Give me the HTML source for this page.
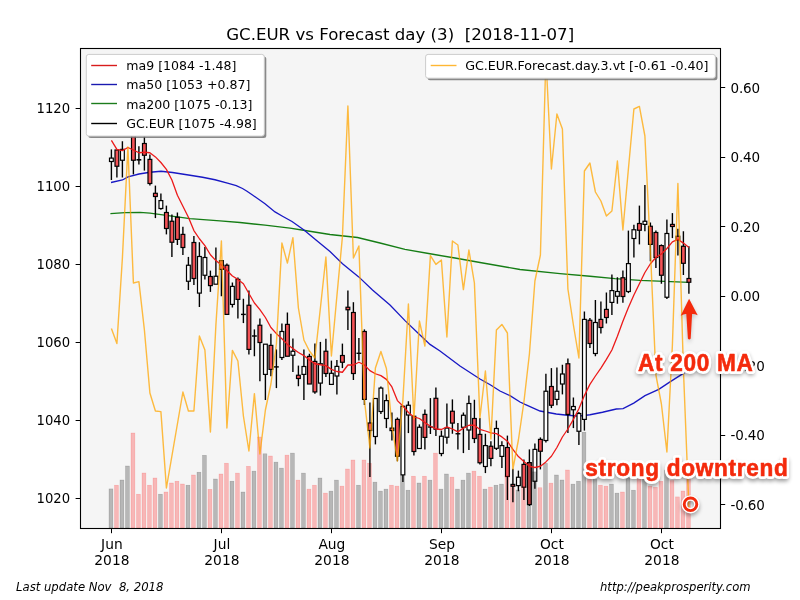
<!DOCTYPE html>
<html><head><meta charset="utf-8"><title>GC.EUR vs Forecast</title>
<style>html,body{margin:0;padding:0;background:#fff;overflow:hidden}svg{display:block}text{font-family:"DejaVu Sans","Liberation Sans",sans-serif}.ann{font-family:"Liberation Sans","DejaVu Sans",sans-serif;font-weight:bold}</style></head><body>
<svg width="800" height="600" viewBox="0 0 800 600">
<defs><clipPath id="ax"><rect x="80" y="48" width="640" height="480"/></clipPath>
<filter id="blur" x="-20%" y="-50%" width="140%" height="200%"><feGaussianBlur stdDeviation="2.0"/></filter><filter id="soft" x="-20%" y="-50%" width="140%" height="200%"><feGaussianBlur stdDeviation="0.6"/></filter>
</defs>
<rect x="0" y="0" width="800" height="600" fill="#fff"/>
<rect x="80" y="48" width="640" height="480" fill="#f5f5f5"/>
<g clip-path="url(#ax)">
<polyline points="110.4,213.6 125,212.7 140,212.4 150,213.1 190,218.6 220,220.9 240,222.5 265,225.2 290,228.1 305,230.5 330,234.5 357.5,237.5 380,243 405,249.3 430,253.75 455,258 480,262.5 520,269.5 560,273.6 590,276.25 615,278.6 640,280.3 689,282.4" fill="none" stroke="#157d15" stroke-width="1.3"/>
<polyline points="111,182.5 122.5,180 128,176.9 139,174 150,172.25 161,171.25 172.5,172.5 190,175.25 202.5,177.25 215,179.75 227.5,183.1 236.25,185.6 242.5,188.5 247,191.2 252.5,195 265,203.75 275,211.9 282.5,216.25 292,221.5 304,230 316,240 330,251.5 342.5,263.75 358.75,276.9 372.5,290 390,305 405,320.6 420,335 430,344.4 440,351 460,366 480,379 490.6,385 500,391 510,395.6 520,402 525,404.4 540,411 556.25,414 567.5,415.25 578.75,416.2 590,414.75 602.5,412.25 616.25,409 623.1,408.7 633.75,403.1 645,395.6 658.75,389.4 670,381.9 683.75,373.1 689,368.8" fill="none" stroke="#1818c4" stroke-width="1.3"/>
<rect x="109.50" y="158.10" width="3.8" height="3.40" fill="#fff" stroke="#000" stroke-width="1.2"/>
<rect x="115.00" y="150.00" width="3.8" height="16.25" fill="#f45256" stroke="#000" stroke-width="1.2"/>
<rect x="120.50" y="149.40" width="3.8" height="10.85" fill="#fff" stroke="#000" stroke-width="1.2"/>
<rect x="131.50" y="128.00" width="3.8" height="32.25" fill="#f45256" stroke="#000" stroke-width="1.2"/>
<rect x="142.50" y="143.50" width="3.8" height="11.75" fill="#f45256" stroke="#000" stroke-width="1.2"/>
<rect x="148.00" y="159.40" width="3.8" height="24.10" fill="#f45256" stroke="#000" stroke-width="1.2"/>
<rect x="153.50" y="193.30" width="3.8" height="3.20" fill="#f45256" stroke="#000" stroke-width="1.2"/>
<rect x="159.00" y="200.60" width="3.8" height="7.90" fill="#fff" stroke="#000" stroke-width="1.2"/>
<rect x="164.50" y="212.50" width="3.8" height="16.00" fill="#f45256" stroke="#000" stroke-width="1.2"/>
<rect x="170.00" y="221.25" width="3.8" height="21.00" fill="#f45256" stroke="#000" stroke-width="1.2"/>
<rect x="175.50" y="217.25" width="3.8" height="22.15" fill="#f45256" stroke="#000" stroke-width="1.2"/>
<rect x="181.00" y="234.40" width="3.8" height="13.10" fill="#f45256" stroke="#000" stroke-width="1.2"/>
<rect x="186.50" y="265.25" width="3.8" height="16.00" fill="#fff" stroke="#000" stroke-width="1.2"/>
<rect x="192.00" y="242.50" width="3.8" height="36.00" fill="#f45256" stroke="#000" stroke-width="1.2"/>
<rect x="197.50" y="256.50" width="3.8" height="36.60" fill="#fff" stroke="#000" stroke-width="1.2"/>
<rect x="203.00" y="257.50" width="3.8" height="17.75" fill="#fff" stroke="#000" stroke-width="1.2"/>
<rect x="208.50" y="276.50" width="3.8" height="9.10" fill="#f45256" stroke="#000" stroke-width="1.2"/>
<rect x="214.00" y="276.25" width="3.8" height="7.95" fill="#fff" stroke="#000" stroke-width="1.2"/>
<rect x="219.50" y="260.60" width="3.8" height="8.80" fill="#f45256" stroke="#000" stroke-width="1.2"/>
<rect x="225.00" y="265.25" width="3.8" height="49.15" fill="#f45256" stroke="#000" stroke-width="1.2"/>
<rect x="230.50" y="286.40" width="3.8" height="18.00" fill="#fff" stroke="#000" stroke-width="1.2"/>
<rect x="236.00" y="279.40" width="3.8" height="20.00" fill="#f45256" stroke="#000" stroke-width="1.2"/>
<rect x="247.00" y="305.25" width="3.8" height="44.15" fill="#f45256" stroke="#000" stroke-width="1.2"/>
<rect x="258.00" y="325.25" width="3.8" height="17.25" fill="#f45256" stroke="#000" stroke-width="1.2"/>
<rect x="263.50" y="344.20" width="3.8" height="30.20" fill="#fff" stroke="#000" stroke-width="1.2"/>
<rect x="269.00" y="345.40" width="3.8" height="24.00" fill="#f45256" stroke="#000" stroke-width="1.2"/>
<rect x="280.00" y="331.50" width="3.8" height="26.00" fill="#fff" stroke="#000" stroke-width="1.2"/>
<rect x="285.50" y="324.40" width="3.8" height="31.85" fill="#f45256" stroke="#000" stroke-width="1.2"/>
<rect x="291.00" y="351.25" width="3.8" height="4.00" fill="#fff" stroke="#000" stroke-width="1.2"/>
<rect x="296.50" y="375.25" width="3.8" height="3.25" fill="#f45256" stroke="#000" stroke-width="1.2"/>
<rect x="302.00" y="366.50" width="3.8" height="7.90" fill="#fff" stroke="#000" stroke-width="1.2"/>
<rect x="307.50" y="356.40" width="3.8" height="27.60" fill="#f45256" stroke="#000" stroke-width="1.2"/>
<rect x="313.00" y="361.40" width="3.8" height="30.50" fill="#f45256" stroke="#000" stroke-width="1.2"/>
<rect x="318.50" y="363.75" width="3.8" height="19.35" fill="#fff" stroke="#000" stroke-width="1.2"/>
<rect x="324.00" y="351.25" width="3.8" height="22.25" fill="#f45256" stroke="#000" stroke-width="1.2"/>
<rect x="329.50" y="373.30" width="3.8" height="11.10" fill="#fff" stroke="#000" stroke-width="1.2"/>
<rect x="335.00" y="366.40" width="3.8" height="9.60" fill="#fff" stroke="#000" stroke-width="1.2"/>
<rect x="340.50" y="355.50" width="3.8" height="6.75" fill="#f45256" stroke="#000" stroke-width="1.2"/>
<rect x="346.00" y="307.25" width="3.8" height="2.50" fill="#f45256" stroke="#000" stroke-width="1.2"/>
<rect x="351.50" y="312.50" width="3.8" height="61.00" fill="#f45256" stroke="#000" stroke-width="1.2"/>
<rect x="362.50" y="331.50" width="3.8" height="67.90" fill="#f45256" stroke="#000" stroke-width="1.2"/>
<rect x="368.00" y="423.00" width="3.8" height="7.50" fill="#f45256" stroke="#000" stroke-width="1.2"/>
<rect x="373.50" y="398.50" width="3.8" height="38.00" fill="#fff" stroke="#000" stroke-width="1.2"/>
<rect x="379.00" y="388.10" width="3.8" height="23.40" fill="#fff" stroke="#000" stroke-width="1.2"/>
<rect x="384.50" y="400.60" width="3.8" height="17.90" fill="#fff" stroke="#000" stroke-width="1.2"/>
<rect x="390.00" y="428.10" width="3.8" height="2.50" fill="#f45256" stroke="#000" stroke-width="1.2"/>
<rect x="395.50" y="419.40" width="3.8" height="36.85" fill="#f45256" stroke="#000" stroke-width="1.2"/>
<rect x="401.00" y="406.25" width="3.8" height="68.65" fill="#fff" stroke="#000" stroke-width="1.2"/>
<rect x="406.50" y="405.25" width="3.8" height="9.75" fill="#fff" stroke="#000" stroke-width="1.2"/>
<rect x="412.00" y="416.25" width="3.8" height="35.25" fill="#f45256" stroke="#000" stroke-width="1.2"/>
<rect x="417.50" y="427.25" width="3.8" height="21.25" fill="#fff" stroke="#000" stroke-width="1.2"/>
<rect x="423.00" y="414.40" width="3.8" height="23.00" fill="#f45256" stroke="#000" stroke-width="1.2"/>
<rect x="434.00" y="398.30" width="3.8" height="30.90" fill="#f45256" stroke="#000" stroke-width="1.2"/>
<rect x="439.50" y="436.25" width="3.8" height="17.25" fill="#fff" stroke="#000" stroke-width="1.2"/>
<rect x="445.00" y="428.10" width="3.8" height="9.15" fill="#fff" stroke="#000" stroke-width="1.2"/>
<rect x="450.50" y="411.25" width="3.8" height="11.85" fill="#f45256" stroke="#000" stroke-width="1.2"/>
<rect x="461.50" y="415.25" width="3.8" height="12.00" fill="#fff" stroke="#000" stroke-width="1.2"/>
<rect x="467.00" y="403.50" width="3.8" height="26.50" fill="#fff" stroke="#000" stroke-width="1.2"/>
<rect x="472.50" y="418.50" width="3.8" height="20.00" fill="#f45256" stroke="#000" stroke-width="1.2"/>
<rect x="478.00" y="434.40" width="3.8" height="28.35" fill="#f45256" stroke="#000" stroke-width="1.2"/>
<rect x="483.50" y="445.60" width="3.8" height="20.90" fill="#fff" stroke="#000" stroke-width="1.2"/>
<rect x="489.00" y="446.25" width="3.8" height="12.15" fill="#f45256" stroke="#000" stroke-width="1.2"/>
<rect x="494.50" y="428.50" width="3.8" height="19.80" fill="#fff" stroke="#000" stroke-width="1.2"/>
<rect x="500.00" y="445.60" width="3.8" height="10.80" fill="#fff" stroke="#000" stroke-width="1.2"/>
<rect x="505.50" y="447.50" width="3.8" height="29.00" fill="#f45256" stroke="#000" stroke-width="1.2"/>
<rect x="511.00" y="484.40" width="3.8" height="1.85" fill="#f45256" stroke="#000" stroke-width="1.2"/>
<rect x="516.50" y="477.25" width="3.8" height="8.35" fill="#fff" stroke="#000" stroke-width="1.2"/>
<rect x="522.00" y="464.40" width="3.8" height="22.85" fill="#f45256" stroke="#000" stroke-width="1.2"/>
<rect x="527.50" y="462.60" width="3.8" height="42.00" fill="#f45256" stroke="#000" stroke-width="1.2"/>
<rect x="533.00" y="449.40" width="3.8" height="31.85" fill="#fff" stroke="#000" stroke-width="1.2"/>
<rect x="538.50" y="439.40" width="3.8" height="11.85" fill="#f45256" stroke="#000" stroke-width="1.2"/>
<rect x="544.00" y="391.25" width="3.8" height="49.25" fill="#fff" stroke="#000" stroke-width="1.2"/>
<rect x="549.50" y="386.50" width="3.8" height="18.75" fill="#f45256" stroke="#000" stroke-width="1.2"/>
<rect x="555.00" y="391.25" width="3.8" height="8.15" fill="#fff" stroke="#000" stroke-width="1.2"/>
<rect x="560.50" y="374.00" width="3.8" height="10.00" fill="#fff" stroke="#000" stroke-width="1.2"/>
<rect x="566.00" y="363.75" width="3.8" height="50.65" fill="#f45256" stroke="#000" stroke-width="1.2"/>
<rect x="571.50" y="406.50" width="3.8" height="3.25" fill="#fff" stroke="#000" stroke-width="1.2"/>
<rect x="577.00" y="413.50" width="3.8" height="17.75" fill="#fff" stroke="#000" stroke-width="1.2"/>
<rect x="582.50" y="319.40" width="3.8" height="100.00" fill="#fff" stroke="#000" stroke-width="1.2"/>
<rect x="588.00" y="320.25" width="3.8" height="23.25" fill="#f45256" stroke="#000" stroke-width="1.2"/>
<rect x="593.50" y="322.50" width="3.8" height="31.00" fill="#fff" stroke="#000" stroke-width="1.2"/>
<rect x="599.00" y="319.40" width="3.8" height="8.10" fill="#f45256" stroke="#000" stroke-width="1.2"/>
<rect x="604.50" y="309.40" width="3.8" height="8.10" fill="#f45256" stroke="#000" stroke-width="1.2"/>
<rect x="610.00" y="290.60" width="3.8" height="11.80" fill="#fff" stroke="#000" stroke-width="1.2"/>
<rect x="615.50" y="291.50" width="3.8" height="4.75" fill="#fff" stroke="#000" stroke-width="1.2"/>
<rect x="621.00" y="277.75" width="3.8" height="18.75" fill="#f45256" stroke="#000" stroke-width="1.2"/>
<rect x="626.50" y="263.60" width="3.8" height="27.90" fill="#fff" stroke="#000" stroke-width="1.2"/>
<rect x="632.00" y="229.75" width="3.8" height="8.75" fill="#fff" stroke="#000" stroke-width="1.2"/>
<rect x="637.50" y="223.50" width="3.8" height="6.75" fill="#f45256" stroke="#000" stroke-width="1.2"/>
<rect x="643.00" y="221.25" width="3.8" height="3.15" fill="#fff" stroke="#000" stroke-width="1.2"/>
<rect x="648.50" y="226.25" width="3.8" height="18.15" fill="#f45256" stroke="#000" stroke-width="1.2"/>
<rect x="654.00" y="232.50" width="3.8" height="25.00" fill="#f45256" stroke="#000" stroke-width="1.2"/>
<rect x="659.50" y="245.60" width="3.8" height="29.65" fill="#f45256" stroke="#000" stroke-width="1.2"/>
<rect x="665.00" y="233.50" width="3.8" height="63.75" fill="#fff" stroke="#000" stroke-width="1.2"/>
<rect x="670.50" y="224.40" width="3.8" height="2.10" fill="#f45256" stroke="#000" stroke-width="1.2"/>
<rect x="676.00" y="236.25" width="3.8" height="3.75" fill="#f45256" stroke="#000" stroke-width="1.2"/>
<rect x="681.50" y="246.25" width="3.8" height="17.05" fill="#f45256" stroke="#000" stroke-width="1.2"/>
<rect x="687.00" y="278.50" width="3.8" height="3.75" fill="#f45256" stroke="#000" stroke-width="1.2"/>
<rect x="109.00" y="488.90" width="3.9" height="39.10" fill="#000" fill-opacity="0.25" stroke="#000" stroke-opacity="0.22" stroke-width="0.5"/>
<rect x="114.50" y="485.20" width="3.9" height="42.80" fill="#ff0000" fill-opacity="0.25" stroke="#ff0000" stroke-opacity="0.22" stroke-width="0.5"/>
<rect x="120.00" y="480.00" width="3.9" height="48.00" fill="#000" fill-opacity="0.25" stroke="#000" stroke-opacity="0.22" stroke-width="0.5"/>
<rect x="125.50" y="466.00" width="3.9" height="62.00" fill="#000" fill-opacity="0.25" stroke="#000" stroke-opacity="0.22" stroke-width="0.5"/>
<rect x="131.00" y="433.00" width="3.9" height="95.00" fill="#ff0000" fill-opacity="0.25" stroke="#ff0000" stroke-opacity="0.22" stroke-width="0.5"/>
<rect x="136.50" y="494.20" width="3.9" height="33.80" fill="#ff0000" fill-opacity="0.25" stroke="#ff0000" stroke-opacity="0.22" stroke-width="0.5"/>
<rect x="142.00" y="473.00" width="3.9" height="55.00" fill="#ff0000" fill-opacity="0.25" stroke="#ff0000" stroke-opacity="0.22" stroke-width="0.5"/>
<rect x="147.50" y="485.20" width="3.9" height="42.80" fill="#ff0000" fill-opacity="0.25" stroke="#ff0000" stroke-opacity="0.22" stroke-width="0.5"/>
<rect x="153.00" y="478.00" width="3.9" height="50.00" fill="#ff0000" fill-opacity="0.25" stroke="#ff0000" stroke-opacity="0.22" stroke-width="0.5"/>
<rect x="158.50" y="494.20" width="3.9" height="33.80" fill="#000" fill-opacity="0.25" stroke="#000" stroke-opacity="0.22" stroke-width="0.5"/>
<rect x="164.00" y="492.00" width="3.9" height="36.00" fill="#ff0000" fill-opacity="0.25" stroke="#ff0000" stroke-opacity="0.22" stroke-width="0.5"/>
<rect x="169.50" y="483.00" width="3.9" height="45.00" fill="#ff0000" fill-opacity="0.25" stroke="#ff0000" stroke-opacity="0.22" stroke-width="0.5"/>
<rect x="175.00" y="481.20" width="3.9" height="46.80" fill="#ff0000" fill-opacity="0.25" stroke="#ff0000" stroke-opacity="0.22" stroke-width="0.5"/>
<rect x="180.50" y="484.00" width="3.9" height="44.00" fill="#ff0000" fill-opacity="0.25" stroke="#ff0000" stroke-opacity="0.22" stroke-width="0.5"/>
<rect x="186.00" y="485.20" width="3.9" height="42.80" fill="#000" fill-opacity="0.25" stroke="#000" stroke-opacity="0.22" stroke-width="0.5"/>
<rect x="191.50" y="475.00" width="3.9" height="53.00" fill="#ff0000" fill-opacity="0.25" stroke="#ff0000" stroke-opacity="0.22" stroke-width="0.5"/>
<rect x="197.00" y="472.20" width="3.9" height="55.80" fill="#000" fill-opacity="0.25" stroke="#000" stroke-opacity="0.22" stroke-width="0.5"/>
<rect x="202.50" y="455.30" width="3.9" height="72.70" fill="#000" fill-opacity="0.25" stroke="#000" stroke-opacity="0.22" stroke-width="0.5"/>
<rect x="208.00" y="489.30" width="3.9" height="38.70" fill="#ff0000" fill-opacity="0.25" stroke="#ff0000" stroke-opacity="0.22" stroke-width="0.5"/>
<rect x="213.50" y="479.00" width="3.9" height="49.00" fill="#000" fill-opacity="0.25" stroke="#000" stroke-opacity="0.22" stroke-width="0.5"/>
<rect x="219.00" y="474.00" width="3.9" height="54.00" fill="#ff0000" fill-opacity="0.25" stroke="#ff0000" stroke-opacity="0.22" stroke-width="0.5"/>
<rect x="224.50" y="463.20" width="3.9" height="64.80" fill="#ff0000" fill-opacity="0.25" stroke="#ff0000" stroke-opacity="0.22" stroke-width="0.5"/>
<rect x="230.00" y="481.20" width="3.9" height="46.80" fill="#000" fill-opacity="0.25" stroke="#000" stroke-opacity="0.22" stroke-width="0.5"/>
<rect x="235.50" y="473.10" width="3.9" height="54.90" fill="#ff0000" fill-opacity="0.25" stroke="#ff0000" stroke-opacity="0.22" stroke-width="0.5"/>
<rect x="241.00" y="492.00" width="3.9" height="36.00" fill="#000" fill-opacity="0.25" stroke="#000" stroke-opacity="0.22" stroke-width="0.5"/>
<rect x="246.50" y="466.30" width="3.9" height="61.70" fill="#ff0000" fill-opacity="0.25" stroke="#ff0000" stroke-opacity="0.22" stroke-width="0.5"/>
<rect x="252.00" y="471.10" width="3.9" height="56.90" fill="#000" fill-opacity="0.25" stroke="#000" stroke-opacity="0.22" stroke-width="0.5"/>
<rect x="257.50" y="437.00" width="3.9" height="91.00" fill="#ff0000" fill-opacity="0.25" stroke="#ff0000" stroke-opacity="0.22" stroke-width="0.5"/>
<rect x="263.00" y="453.80" width="3.9" height="74.20" fill="#000" fill-opacity="0.25" stroke="#000" stroke-opacity="0.22" stroke-width="0.5"/>
<rect x="268.50" y="456.00" width="3.9" height="72.00" fill="#ff0000" fill-opacity="0.25" stroke="#ff0000" stroke-opacity="0.22" stroke-width="0.5"/>
<rect x="274.00" y="462.10" width="3.9" height="65.90" fill="#000" fill-opacity="0.25" stroke="#000" stroke-opacity="0.22" stroke-width="0.5"/>
<rect x="279.50" y="468.10" width="3.9" height="59.90" fill="#000" fill-opacity="0.25" stroke="#000" stroke-opacity="0.22" stroke-width="0.5"/>
<rect x="285.00" y="455.10" width="3.9" height="72.90" fill="#ff0000" fill-opacity="0.25" stroke="#ff0000" stroke-opacity="0.22" stroke-width="0.5"/>
<rect x="290.50" y="453.10" width="3.9" height="74.90" fill="#000" fill-opacity="0.25" stroke="#000" stroke-opacity="0.22" stroke-width="0.5"/>
<rect x="296.00" y="480.10" width="3.9" height="47.90" fill="#ff0000" fill-opacity="0.25" stroke="#ff0000" stroke-opacity="0.22" stroke-width="0.5"/>
<rect x="301.50" y="473.10" width="3.9" height="54.90" fill="#000" fill-opacity="0.25" stroke="#000" stroke-opacity="0.22" stroke-width="0.5"/>
<rect x="307.00" y="489.10" width="3.9" height="38.90" fill="#ff0000" fill-opacity="0.25" stroke="#ff0000" stroke-opacity="0.22" stroke-width="0.5"/>
<rect x="312.50" y="485.20" width="3.9" height="42.80" fill="#ff0000" fill-opacity="0.25" stroke="#ff0000" stroke-opacity="0.22" stroke-width="0.5"/>
<rect x="318.00" y="478.00" width="3.9" height="50.00" fill="#000" fill-opacity="0.25" stroke="#000" stroke-opacity="0.22" stroke-width="0.5"/>
<rect x="323.50" y="493.10" width="3.9" height="34.90" fill="#ff0000" fill-opacity="0.25" stroke="#ff0000" stroke-opacity="0.22" stroke-width="0.5"/>
<rect x="329.00" y="491.10" width="3.9" height="36.90" fill="#000" fill-opacity="0.25" stroke="#000" stroke-opacity="0.22" stroke-width="0.5"/>
<rect x="334.50" y="480.10" width="3.9" height="47.90" fill="#000" fill-opacity="0.25" stroke="#000" stroke-opacity="0.22" stroke-width="0.5"/>
<rect x="340.00" y="486.10" width="3.9" height="41.90" fill="#ff0000" fill-opacity="0.25" stroke="#ff0000" stroke-opacity="0.22" stroke-width="0.5"/>
<rect x="345.50" y="469.00" width="3.9" height="59.00" fill="#ff0000" fill-opacity="0.25" stroke="#ff0000" stroke-opacity="0.22" stroke-width="0.5"/>
<rect x="351.00" y="460.00" width="3.9" height="68.00" fill="#ff0000" fill-opacity="0.25" stroke="#ff0000" stroke-opacity="0.22" stroke-width="0.5"/>
<rect x="356.50" y="485.20" width="3.9" height="42.80" fill="#000" fill-opacity="0.25" stroke="#000" stroke-opacity="0.22" stroke-width="0.5"/>
<rect x="362.00" y="460.00" width="3.9" height="68.00" fill="#ff0000" fill-opacity="0.25" stroke="#ff0000" stroke-opacity="0.22" stroke-width="0.5"/>
<rect x="367.50" y="463.20" width="3.9" height="64.80" fill="#ff0000" fill-opacity="0.25" stroke="#ff0000" stroke-opacity="0.22" stroke-width="0.5"/>
<rect x="373.00" y="482.10" width="3.9" height="45.90" fill="#000" fill-opacity="0.25" stroke="#000" stroke-opacity="0.22" stroke-width="0.5"/>
<rect x="378.50" y="491.10" width="3.9" height="36.90" fill="#000" fill-opacity="0.25" stroke="#000" stroke-opacity="0.22" stroke-width="0.5"/>
<rect x="384.00" y="489.10" width="3.9" height="38.90" fill="#000" fill-opacity="0.25" stroke="#000" stroke-opacity="0.22" stroke-width="0.5"/>
<rect x="389.50" y="485.20" width="3.9" height="42.80" fill="#ff0000" fill-opacity="0.25" stroke="#ff0000" stroke-opacity="0.22" stroke-width="0.5"/>
<rect x="395.00" y="486.10" width="3.9" height="41.90" fill="#ff0000" fill-opacity="0.25" stroke="#ff0000" stroke-opacity="0.22" stroke-width="0.5"/>
<rect x="400.50" y="475.80" width="3.9" height="52.20" fill="#000" fill-opacity="0.25" stroke="#000" stroke-opacity="0.22" stroke-width="0.5"/>
<rect x="406.00" y="490.20" width="3.9" height="37.80" fill="#000" fill-opacity="0.25" stroke="#000" stroke-opacity="0.22" stroke-width="0.5"/>
<rect x="411.50" y="476.20" width="3.9" height="51.80" fill="#ff0000" fill-opacity="0.25" stroke="#ff0000" stroke-opacity="0.22" stroke-width="0.5"/>
<rect x="417.00" y="483.00" width="3.9" height="45.00" fill="#000" fill-opacity="0.25" stroke="#000" stroke-opacity="0.22" stroke-width="0.5"/>
<rect x="422.50" y="476.20" width="3.9" height="51.80" fill="#ff0000" fill-opacity="0.25" stroke="#ff0000" stroke-opacity="0.22" stroke-width="0.5"/>
<rect x="428.00" y="480.10" width="3.9" height="47.90" fill="#000" fill-opacity="0.25" stroke="#000" stroke-opacity="0.22" stroke-width="0.5"/>
<rect x="433.50" y="453.10" width="3.9" height="74.90" fill="#ff0000" fill-opacity="0.25" stroke="#ff0000" stroke-opacity="0.22" stroke-width="0.5"/>
<rect x="439.00" y="489.10" width="3.9" height="38.90" fill="#000" fill-opacity="0.25" stroke="#000" stroke-opacity="0.22" stroke-width="0.5"/>
<rect x="444.50" y="474.00" width="3.9" height="54.00" fill="#000" fill-opacity="0.25" stroke="#000" stroke-opacity="0.22" stroke-width="0.5"/>
<rect x="450.00" y="477.10" width="3.9" height="50.90" fill="#ff0000" fill-opacity="0.25" stroke="#ff0000" stroke-opacity="0.22" stroke-width="0.5"/>
<rect x="455.50" y="489.10" width="3.9" height="38.90" fill="#000" fill-opacity="0.25" stroke="#000" stroke-opacity="0.22" stroke-width="0.5"/>
<rect x="461.00" y="480.10" width="3.9" height="47.90" fill="#000" fill-opacity="0.25" stroke="#000" stroke-opacity="0.22" stroke-width="0.5"/>
<rect x="466.50" y="473.10" width="3.9" height="54.90" fill="#000" fill-opacity="0.25" stroke="#000" stroke-opacity="0.22" stroke-width="0.5"/>
<rect x="472.00" y="471.10" width="3.9" height="56.90" fill="#ff0000" fill-opacity="0.25" stroke="#ff0000" stroke-opacity="0.22" stroke-width="0.5"/>
<rect x="477.50" y="476.20" width="3.9" height="51.80" fill="#ff0000" fill-opacity="0.25" stroke="#ff0000" stroke-opacity="0.22" stroke-width="0.5"/>
<rect x="483.00" y="489.10" width="3.9" height="38.90" fill="#000" fill-opacity="0.25" stroke="#000" stroke-opacity="0.22" stroke-width="0.5"/>
<rect x="488.50" y="487.10" width="3.9" height="40.90" fill="#ff0000" fill-opacity="0.25" stroke="#ff0000" stroke-opacity="0.22" stroke-width="0.5"/>
<rect x="494.00" y="485.20" width="3.9" height="42.80" fill="#000" fill-opacity="0.25" stroke="#000" stroke-opacity="0.22" stroke-width="0.5"/>
<rect x="499.50" y="484.10" width="3.9" height="43.90" fill="#000" fill-opacity="0.25" stroke="#000" stroke-opacity="0.22" stroke-width="0.5"/>
<rect x="505.00" y="476.00" width="3.9" height="52.00" fill="#ff0000" fill-opacity="0.25" stroke="#ff0000" stroke-opacity="0.22" stroke-width="0.5"/>
<rect x="510.50" y="487.50" width="3.9" height="40.50" fill="#ff0000" fill-opacity="0.25" stroke="#ff0000" stroke-opacity="0.22" stroke-width="0.5"/>
<rect x="516.00" y="490.00" width="3.9" height="38.00" fill="#000" fill-opacity="0.25" stroke="#000" stroke-opacity="0.22" stroke-width="0.5"/>
<rect x="521.50" y="487.50" width="3.9" height="40.50" fill="#ff0000" fill-opacity="0.25" stroke="#ff0000" stroke-opacity="0.22" stroke-width="0.5"/>
<rect x="527.00" y="463.00" width="3.9" height="65.00" fill="#000" fill-opacity="0.25" stroke="#000" stroke-opacity="0.22" stroke-width="0.5"/>
<rect x="532.50" y="471.90" width="3.9" height="56.10" fill="#000" fill-opacity="0.25" stroke="#000" stroke-opacity="0.22" stroke-width="0.5"/>
<rect x="538.00" y="487.75" width="3.9" height="40.25" fill="#ff0000" fill-opacity="0.25" stroke="#ff0000" stroke-opacity="0.22" stroke-width="0.5"/>
<rect x="543.50" y="463.30" width="3.9" height="64.70" fill="#000" fill-opacity="0.25" stroke="#000" stroke-opacity="0.22" stroke-width="0.5"/>
<rect x="549.00" y="483.10" width="3.9" height="44.90" fill="#ff0000" fill-opacity="0.25" stroke="#ff0000" stroke-opacity="0.22" stroke-width="0.5"/>
<rect x="554.50" y="475.00" width="3.9" height="53.00" fill="#000" fill-opacity="0.25" stroke="#000" stroke-opacity="0.22" stroke-width="0.5"/>
<rect x="560.00" y="480.00" width="3.9" height="48.00" fill="#000" fill-opacity="0.25" stroke="#000" stroke-opacity="0.22" stroke-width="0.5"/>
<rect x="565.50" y="470.00" width="3.9" height="58.00" fill="#ff0000" fill-opacity="0.25" stroke="#ff0000" stroke-opacity="0.22" stroke-width="0.5"/>
<rect x="571.00" y="484.10" width="3.9" height="43.90" fill="#000" fill-opacity="0.25" stroke="#000" stroke-opacity="0.22" stroke-width="0.5"/>
<rect x="576.50" y="481.20" width="3.9" height="46.80" fill="#000" fill-opacity="0.25" stroke="#000" stroke-opacity="0.22" stroke-width="0.5"/>
<rect x="582.00" y="432.20" width="3.9" height="95.80" fill="#000" fill-opacity="0.25" stroke="#000" stroke-opacity="0.22" stroke-width="0.5"/>
<rect x="587.50" y="479.40" width="3.9" height="48.60" fill="#ff0000" fill-opacity="0.25" stroke="#ff0000" stroke-opacity="0.22" stroke-width="0.5"/>
<rect x="593.00" y="479.40" width="3.9" height="48.60" fill="#000" fill-opacity="0.25" stroke="#000" stroke-opacity="0.22" stroke-width="0.5"/>
<rect x="598.50" y="485.20" width="3.9" height="42.80" fill="#ff0000" fill-opacity="0.25" stroke="#ff0000" stroke-opacity="0.22" stroke-width="0.5"/>
<rect x="604.00" y="486.10" width="3.9" height="41.90" fill="#ff0000" fill-opacity="0.25" stroke="#ff0000" stroke-opacity="0.22" stroke-width="0.5"/>
<rect x="609.50" y="484.10" width="3.9" height="43.90" fill="#000" fill-opacity="0.25" stroke="#000" stroke-opacity="0.22" stroke-width="0.5"/>
<rect x="615.00" y="493.10" width="3.9" height="34.90" fill="#000" fill-opacity="0.25" stroke="#000" stroke-opacity="0.22" stroke-width="0.5"/>
<rect x="620.50" y="492.00" width="3.9" height="36.00" fill="#ff0000" fill-opacity="0.25" stroke="#ff0000" stroke-opacity="0.22" stroke-width="0.5"/>
<rect x="626.00" y="477.60" width="3.9" height="50.40" fill="#000" fill-opacity="0.25" stroke="#000" stroke-opacity="0.22" stroke-width="0.5"/>
<rect x="631.50" y="490.20" width="3.9" height="37.80" fill="#000" fill-opacity="0.25" stroke="#000" stroke-opacity="0.22" stroke-width="0.5"/>
<rect x="637.00" y="478.50" width="3.9" height="49.50" fill="#ff0000" fill-opacity="0.25" stroke="#ff0000" stroke-opacity="0.22" stroke-width="0.5"/>
<rect x="642.50" y="479.40" width="3.9" height="48.60" fill="#000" fill-opacity="0.25" stroke="#000" stroke-opacity="0.22" stroke-width="0.5"/>
<rect x="648.00" y="486.10" width="3.9" height="41.90" fill="#ff0000" fill-opacity="0.25" stroke="#ff0000" stroke-opacity="0.22" stroke-width="0.5"/>
<rect x="653.50" y="487.30" width="3.9" height="40.70" fill="#ff0000" fill-opacity="0.25" stroke="#ff0000" stroke-opacity="0.22" stroke-width="0.5"/>
<rect x="659.00" y="481.30" width="3.9" height="46.70" fill="#ff0000" fill-opacity="0.25" stroke="#ff0000" stroke-opacity="0.22" stroke-width="0.5"/>
<rect x="664.50" y="470.00" width="3.9" height="58.00" fill="#000" fill-opacity="0.25" stroke="#000" stroke-opacity="0.22" stroke-width="0.5"/>
<rect x="670.00" y="480.60" width="3.9" height="47.40" fill="#ff0000" fill-opacity="0.25" stroke="#ff0000" stroke-opacity="0.22" stroke-width="0.5"/>
<rect x="675.50" y="496.90" width="3.9" height="31.10" fill="#ff0000" fill-opacity="0.25" stroke="#ff0000" stroke-opacity="0.22" stroke-width="0.5"/>
<rect x="681.00" y="491.00" width="3.9" height="37.00" fill="#ff0000" fill-opacity="0.25" stroke="#ff0000" stroke-opacity="0.22" stroke-width="0.5"/>
<rect x="686.50" y="478.00" width="3.9" height="50.00" fill="#ff0000" fill-opacity="0.25" stroke="#ff0000" stroke-opacity="0.22" stroke-width="0.5"/>
<line x1="111.40" y1="149.40" x2="111.40" y2="158.10" stroke="#000" stroke-width="1.4"/>
<line x1="111.40" y1="161.50" x2="111.40" y2="180.00" stroke="#000" stroke-width="1.4"/>
<line x1="116.90" y1="166.25" x2="116.90" y2="177.50" stroke="#000" stroke-width="1.4"/>
<line x1="122.40" y1="141.25" x2="122.40" y2="149.40" stroke="#000" stroke-width="1.4"/>
<line x1="122.40" y1="160.25" x2="122.40" y2="177.50" stroke="#000" stroke-width="1.4"/>
<line x1="133.40" y1="125.00" x2="133.40" y2="128.00" stroke="#000" stroke-width="1.4"/>
<line x1="133.40" y1="160.25" x2="133.40" y2="174.40" stroke="#000" stroke-width="1.4"/>
<line x1="138.90" y1="146.25" x2="138.90" y2="164.40" stroke="#000" stroke-width="1.4"/>
<rect x="136.50" y="159.00" width="4.8" height="1.60" fill="#000"/>
<line x1="144.40" y1="136.25" x2="144.40" y2="143.50" stroke="#000" stroke-width="1.4"/>
<line x1="144.40" y1="155.25" x2="144.40" y2="170.60" stroke="#000" stroke-width="1.4"/>
<line x1="149.90" y1="154.40" x2="149.90" y2="159.40" stroke="#000" stroke-width="1.4"/>
<line x1="149.90" y1="183.50" x2="149.90" y2="185.60" stroke="#000" stroke-width="1.4"/>
<line x1="155.40" y1="185.60" x2="155.40" y2="193.30" stroke="#000" stroke-width="1.4"/>
<line x1="155.40" y1="196.50" x2="155.40" y2="218.10" stroke="#000" stroke-width="1.4"/>
<line x1="160.90" y1="193.50" x2="160.90" y2="200.60" stroke="#000" stroke-width="1.4"/>
<line x1="160.90" y1="208.50" x2="160.90" y2="209.75" stroke="#000" stroke-width="1.4"/>
<line x1="166.40" y1="205.60" x2="166.40" y2="212.50" stroke="#000" stroke-width="1.4"/>
<line x1="166.40" y1="228.50" x2="166.40" y2="234.40" stroke="#000" stroke-width="1.4"/>
<line x1="171.90" y1="214.40" x2="171.90" y2="221.25" stroke="#000" stroke-width="1.4"/>
<line x1="171.90" y1="242.25" x2="171.90" y2="256.90" stroke="#000" stroke-width="1.4"/>
<line x1="177.40" y1="212.50" x2="177.40" y2="217.25" stroke="#000" stroke-width="1.4"/>
<line x1="177.40" y1="239.40" x2="177.40" y2="245.00" stroke="#000" stroke-width="1.4"/>
<line x1="182.90" y1="226.70" x2="182.90" y2="234.40" stroke="#000" stroke-width="1.4"/>
<line x1="182.90" y1="247.50" x2="182.90" y2="255.00" stroke="#000" stroke-width="1.4"/>
<line x1="188.40" y1="256.90" x2="188.40" y2="265.25" stroke="#000" stroke-width="1.4"/>
<line x1="188.40" y1="281.25" x2="188.40" y2="290.00" stroke="#000" stroke-width="1.4"/>
<line x1="193.90" y1="236.00" x2="193.90" y2="242.50" stroke="#000" stroke-width="1.4"/>
<line x1="193.90" y1="278.50" x2="193.90" y2="285.00" stroke="#000" stroke-width="1.4"/>
<line x1="199.40" y1="242.20" x2="199.40" y2="256.50" stroke="#000" stroke-width="1.4"/>
<line x1="199.40" y1="293.10" x2="199.40" y2="307.00" stroke="#000" stroke-width="1.4"/>
<line x1="204.90" y1="246.90" x2="204.90" y2="257.50" stroke="#000" stroke-width="1.4"/>
<line x1="204.90" y1="275.25" x2="204.90" y2="279.40" stroke="#000" stroke-width="1.4"/>
<line x1="210.40" y1="270.60" x2="210.40" y2="276.50" stroke="#000" stroke-width="1.4"/>
<line x1="210.40" y1="285.60" x2="210.40" y2="291.90" stroke="#000" stroke-width="1.4"/>
<line x1="215.90" y1="247.50" x2="215.90" y2="276.25" stroke="#000" stroke-width="1.4"/>
<line x1="221.40" y1="269.40" x2="221.40" y2="296.25" stroke="#000" stroke-width="1.4"/>
<line x1="226.90" y1="263.50" x2="226.90" y2="265.25" stroke="#000" stroke-width="1.4"/>
<line x1="232.40" y1="282.50" x2="232.40" y2="286.40" stroke="#000" stroke-width="1.4"/>
<line x1="232.40" y1="304.40" x2="232.40" y2="307.50" stroke="#000" stroke-width="1.4"/>
<line x1="237.90" y1="277.50" x2="237.90" y2="279.40" stroke="#000" stroke-width="1.4"/>
<line x1="237.90" y1="299.40" x2="237.90" y2="318.50" stroke="#000" stroke-width="1.4"/>
<line x1="243.40" y1="298.75" x2="243.40" y2="323.10" stroke="#000" stroke-width="1.4"/>
<rect x="241.00" y="313.70" width="4.8" height="1.40" fill="#000"/>
<line x1="248.90" y1="290.60" x2="248.90" y2="305.25" stroke="#000" stroke-width="1.4"/>
<line x1="248.90" y1="349.40" x2="248.90" y2="354.40" stroke="#000" stroke-width="1.4"/>
<line x1="254.40" y1="329.40" x2="254.40" y2="356.25" stroke="#000" stroke-width="1.4"/>
<rect x="252.00" y="335.30" width="4.8" height="1.40" fill="#000"/>
<line x1="259.90" y1="318.50" x2="259.90" y2="325.25" stroke="#000" stroke-width="1.4"/>
<line x1="259.90" y1="342.50" x2="259.90" y2="381.25" stroke="#000" stroke-width="1.4"/>
<line x1="265.40" y1="374.40" x2="265.40" y2="400.00" stroke="#000" stroke-width="1.4"/>
<line x1="270.90" y1="333.75" x2="270.90" y2="345.40" stroke="#000" stroke-width="1.4"/>
<line x1="270.90" y1="369.40" x2="270.90" y2="376.25" stroke="#000" stroke-width="1.4"/>
<line x1="276.40" y1="349.40" x2="276.40" y2="388.10" stroke="#000" stroke-width="1.4"/>
<rect x="274.00" y="366.20" width="4.8" height="1.40" fill="#000"/>
<line x1="281.90" y1="323.60" x2="281.90" y2="331.50" stroke="#000" stroke-width="1.4"/>
<line x1="281.90" y1="357.50" x2="281.90" y2="360.00" stroke="#000" stroke-width="1.4"/>
<line x1="287.40" y1="312.50" x2="287.40" y2="324.40" stroke="#000" stroke-width="1.4"/>
<line x1="292.90" y1="338.60" x2="292.90" y2="351.25" stroke="#000" stroke-width="1.4"/>
<line x1="292.90" y1="355.25" x2="292.90" y2="372.00" stroke="#000" stroke-width="1.4"/>
<line x1="298.40" y1="365.60" x2="298.40" y2="375.25" stroke="#000" stroke-width="1.4"/>
<line x1="298.40" y1="378.50" x2="298.40" y2="386.25" stroke="#000" stroke-width="1.4"/>
<line x1="303.90" y1="349.40" x2="303.90" y2="366.50" stroke="#000" stroke-width="1.4"/>
<line x1="303.90" y1="374.40" x2="303.90" y2="400.00" stroke="#000" stroke-width="1.4"/>
<line x1="309.40" y1="353.75" x2="309.40" y2="356.40" stroke="#000" stroke-width="1.4"/>
<line x1="314.90" y1="343.50" x2="314.90" y2="361.40" stroke="#000" stroke-width="1.4"/>
<line x1="314.90" y1="391.90" x2="314.90" y2="393.75" stroke="#000" stroke-width="1.4"/>
<line x1="320.40" y1="341.90" x2="320.40" y2="363.75" stroke="#000" stroke-width="1.4"/>
<line x1="320.40" y1="383.10" x2="320.40" y2="395.60" stroke="#000" stroke-width="1.4"/>
<line x1="325.90" y1="338.75" x2="325.90" y2="351.25" stroke="#000" stroke-width="1.4"/>
<line x1="325.90" y1="373.50" x2="325.90" y2="376.90" stroke="#000" stroke-width="1.4"/>
<line x1="331.40" y1="360.60" x2="331.40" y2="373.30" stroke="#000" stroke-width="1.4"/>
<line x1="336.90" y1="360.00" x2="336.90" y2="366.40" stroke="#000" stroke-width="1.4"/>
<line x1="336.90" y1="376.00" x2="336.90" y2="394.40" stroke="#000" stroke-width="1.4"/>
<line x1="342.40" y1="343.60" x2="342.40" y2="355.50" stroke="#000" stroke-width="1.4"/>
<line x1="342.40" y1="362.25" x2="342.40" y2="368.10" stroke="#000" stroke-width="1.4"/>
<line x1="347.90" y1="290.60" x2="347.90" y2="307.25" stroke="#000" stroke-width="1.4"/>
<line x1="347.90" y1="309.75" x2="347.90" y2="330.00" stroke="#000" stroke-width="1.4"/>
<line x1="353.40" y1="302.20" x2="353.40" y2="312.50" stroke="#000" stroke-width="1.4"/>
<line x1="353.40" y1="373.50" x2="353.40" y2="380.00" stroke="#000" stroke-width="1.4"/>
<line x1="358.90" y1="338.10" x2="358.90" y2="360.60" stroke="#000" stroke-width="1.4"/>
<rect x="356.50" y="352.60" width="4.8" height="1.40" fill="#000"/>
<line x1="364.40" y1="329.40" x2="364.40" y2="331.50" stroke="#000" stroke-width="1.4"/>
<line x1="364.40" y1="399.40" x2="364.40" y2="405.00" stroke="#000" stroke-width="1.4"/>
<line x1="369.90" y1="402.50" x2="369.90" y2="423.00" stroke="#000" stroke-width="1.4"/>
<line x1="369.90" y1="430.50" x2="369.90" y2="477.00" stroke="#000" stroke-width="1.4"/>
<line x1="375.40" y1="436.50" x2="375.40" y2="444.40" stroke="#000" stroke-width="1.4"/>
<line x1="380.90" y1="386.50" x2="380.90" y2="388.10" stroke="#000" stroke-width="1.4"/>
<line x1="380.90" y1="411.50" x2="380.90" y2="414.10" stroke="#000" stroke-width="1.4"/>
<line x1="386.40" y1="394.40" x2="386.40" y2="400.60" stroke="#000" stroke-width="1.4"/>
<line x1="386.40" y1="418.50" x2="386.40" y2="428.10" stroke="#000" stroke-width="1.4"/>
<line x1="391.90" y1="412.50" x2="391.90" y2="428.10" stroke="#000" stroke-width="1.4"/>
<line x1="391.90" y1="430.60" x2="391.90" y2="440.60" stroke="#000" stroke-width="1.4"/>
<line x1="397.40" y1="417.50" x2="397.40" y2="419.40" stroke="#000" stroke-width="1.4"/>
<line x1="397.40" y1="456.25" x2="397.40" y2="461.25" stroke="#000" stroke-width="1.4"/>
<line x1="402.90" y1="474.90" x2="402.90" y2="482.00" stroke="#000" stroke-width="1.4"/>
<line x1="408.40" y1="401.25" x2="408.40" y2="405.25" stroke="#000" stroke-width="1.4"/>
<line x1="408.40" y1="415.00" x2="408.40" y2="433.10" stroke="#000" stroke-width="1.4"/>
<line x1="413.90" y1="451.50" x2="413.90" y2="455.60" stroke="#000" stroke-width="1.4"/>
<line x1="419.40" y1="424.40" x2="419.40" y2="427.25" stroke="#000" stroke-width="1.4"/>
<line x1="424.90" y1="409.40" x2="424.90" y2="414.40" stroke="#000" stroke-width="1.4"/>
<line x1="424.90" y1="437.40" x2="424.90" y2="449.40" stroke="#000" stroke-width="1.4"/>
<line x1="430.40" y1="398.10" x2="430.40" y2="434.00" stroke="#000" stroke-width="1.4"/>
<rect x="428.00" y="426.30" width="4.8" height="1.40" fill="#000"/>
<line x1="435.90" y1="387.50" x2="435.90" y2="398.30" stroke="#000" stroke-width="1.4"/>
<line x1="435.90" y1="429.20" x2="435.90" y2="436.00" stroke="#000" stroke-width="1.4"/>
<line x1="441.40" y1="430.60" x2="441.40" y2="436.25" stroke="#000" stroke-width="1.4"/>
<line x1="441.40" y1="453.50" x2="441.40" y2="456.25" stroke="#000" stroke-width="1.4"/>
<line x1="446.90" y1="403.50" x2="446.90" y2="428.10" stroke="#000" stroke-width="1.4"/>
<line x1="446.90" y1="437.25" x2="446.90" y2="443.75" stroke="#000" stroke-width="1.4"/>
<line x1="452.40" y1="399.40" x2="452.40" y2="411.25" stroke="#000" stroke-width="1.4"/>
<line x1="452.40" y1="423.10" x2="452.40" y2="433.75" stroke="#000" stroke-width="1.4"/>
<line x1="457.90" y1="423.10" x2="457.90" y2="449.40" stroke="#000" stroke-width="1.4"/>
<rect x="455.50" y="433.05" width="4.8" height="1.40" fill="#000"/>
<line x1="463.40" y1="412.50" x2="463.40" y2="415.25" stroke="#000" stroke-width="1.4"/>
<line x1="463.40" y1="427.25" x2="463.40" y2="453.10" stroke="#000" stroke-width="1.4"/>
<line x1="468.90" y1="395.60" x2="468.90" y2="403.50" stroke="#000" stroke-width="1.4"/>
<line x1="468.90" y1="430.00" x2="468.90" y2="450.00" stroke="#000" stroke-width="1.4"/>
<line x1="474.40" y1="399.75" x2="474.40" y2="418.50" stroke="#000" stroke-width="1.4"/>
<line x1="474.40" y1="438.50" x2="474.40" y2="443.10" stroke="#000" stroke-width="1.4"/>
<line x1="479.90" y1="418.10" x2="479.90" y2="434.40" stroke="#000" stroke-width="1.4"/>
<line x1="479.90" y1="462.75" x2="479.90" y2="464.40" stroke="#000" stroke-width="1.4"/>
<line x1="485.40" y1="433.75" x2="485.40" y2="445.60" stroke="#000" stroke-width="1.4"/>
<line x1="485.40" y1="466.50" x2="485.40" y2="473.10" stroke="#000" stroke-width="1.4"/>
<line x1="490.90" y1="441.25" x2="490.90" y2="446.25" stroke="#000" stroke-width="1.4"/>
<line x1="490.90" y1="458.40" x2="490.90" y2="466.25" stroke="#000" stroke-width="1.4"/>
<line x1="496.40" y1="420.60" x2="496.40" y2="428.50" stroke="#000" stroke-width="1.4"/>
<line x1="496.40" y1="448.30" x2="496.40" y2="450.00" stroke="#000" stroke-width="1.4"/>
<line x1="501.90" y1="441.25" x2="501.90" y2="445.60" stroke="#000" stroke-width="1.4"/>
<line x1="501.90" y1="456.40" x2="501.90" y2="468.10" stroke="#000" stroke-width="1.4"/>
<line x1="507.40" y1="435.60" x2="507.40" y2="447.50" stroke="#000" stroke-width="1.4"/>
<line x1="507.40" y1="476.50" x2="507.40" y2="500.00" stroke="#000" stroke-width="1.4"/>
<line x1="512.90" y1="468.75" x2="512.90" y2="484.40" stroke="#000" stroke-width="1.4"/>
<line x1="512.90" y1="486.25" x2="512.90" y2="502.25" stroke="#000" stroke-width="1.4"/>
<line x1="518.40" y1="470.60" x2="518.40" y2="477.25" stroke="#000" stroke-width="1.4"/>
<line x1="518.40" y1="485.60" x2="518.40" y2="491.25" stroke="#000" stroke-width="1.4"/>
<line x1="523.90" y1="459.40" x2="523.90" y2="464.40" stroke="#000" stroke-width="1.4"/>
<line x1="523.90" y1="487.25" x2="523.90" y2="500.00" stroke="#000" stroke-width="1.4"/>
<line x1="529.40" y1="449.40" x2="529.40" y2="462.60" stroke="#000" stroke-width="1.4"/>
<line x1="529.40" y1="504.60" x2="529.40" y2="506.00" stroke="#000" stroke-width="1.4"/>
<line x1="534.90" y1="443.50" x2="534.90" y2="449.40" stroke="#000" stroke-width="1.4"/>
<line x1="534.90" y1="481.25" x2="534.90" y2="488.75" stroke="#000" stroke-width="1.4"/>
<line x1="540.40" y1="437.40" x2="540.40" y2="439.40" stroke="#000" stroke-width="1.4"/>
<line x1="540.40" y1="451.25" x2="540.40" y2="469.40" stroke="#000" stroke-width="1.4"/>
<line x1="545.90" y1="373.75" x2="545.90" y2="391.25" stroke="#000" stroke-width="1.4"/>
<line x1="545.90" y1="440.50" x2="545.90" y2="442.50" stroke="#000" stroke-width="1.4"/>
<line x1="551.40" y1="368.10" x2="551.40" y2="386.50" stroke="#000" stroke-width="1.4"/>
<line x1="551.40" y1="405.25" x2="551.40" y2="408.10" stroke="#000" stroke-width="1.4"/>
<line x1="556.90" y1="367.50" x2="556.90" y2="391.25" stroke="#000" stroke-width="1.4"/>
<line x1="556.90" y1="399.40" x2="556.90" y2="405.25" stroke="#000" stroke-width="1.4"/>
<line x1="562.40" y1="364.75" x2="562.40" y2="374.00" stroke="#000" stroke-width="1.4"/>
<line x1="562.40" y1="384.00" x2="562.40" y2="394.40" stroke="#000" stroke-width="1.4"/>
<line x1="567.90" y1="358.50" x2="567.90" y2="363.75" stroke="#000" stroke-width="1.4"/>
<line x1="567.90" y1="414.40" x2="567.90" y2="433.10" stroke="#000" stroke-width="1.4"/>
<line x1="573.40" y1="397.50" x2="573.40" y2="406.50" stroke="#000" stroke-width="1.4"/>
<line x1="573.40" y1="409.75" x2="573.40" y2="428.10" stroke="#000" stroke-width="1.4"/>
<line x1="578.90" y1="411.90" x2="578.90" y2="413.50" stroke="#000" stroke-width="1.4"/>
<line x1="578.90" y1="431.25" x2="578.90" y2="445.00" stroke="#000" stroke-width="1.4"/>
<line x1="584.40" y1="311.50" x2="584.40" y2="319.40" stroke="#000" stroke-width="1.4"/>
<line x1="584.40" y1="419.40" x2="584.40" y2="430.60" stroke="#000" stroke-width="1.4"/>
<line x1="589.90" y1="318.10" x2="589.90" y2="320.25" stroke="#000" stroke-width="1.4"/>
<line x1="589.90" y1="343.50" x2="589.90" y2="348.10" stroke="#000" stroke-width="1.4"/>
<line x1="595.40" y1="300.00" x2="595.40" y2="322.50" stroke="#000" stroke-width="1.4"/>
<line x1="595.40" y1="353.50" x2="595.40" y2="356.25" stroke="#000" stroke-width="1.4"/>
<line x1="600.90" y1="301.40" x2="600.90" y2="319.40" stroke="#000" stroke-width="1.4"/>
<line x1="600.90" y1="327.50" x2="600.90" y2="333.50" stroke="#000" stroke-width="1.4"/>
<line x1="606.40" y1="292.50" x2="606.40" y2="309.40" stroke="#000" stroke-width="1.4"/>
<line x1="606.40" y1="317.50" x2="606.40" y2="323.50" stroke="#000" stroke-width="1.4"/>
<line x1="611.90" y1="274.40" x2="611.90" y2="290.60" stroke="#000" stroke-width="1.4"/>
<line x1="611.90" y1="302.40" x2="611.90" y2="315.10" stroke="#000" stroke-width="1.4"/>
<line x1="617.40" y1="277.25" x2="617.40" y2="291.50" stroke="#000" stroke-width="1.4"/>
<line x1="617.40" y1="296.25" x2="617.40" y2="303.75" stroke="#000" stroke-width="1.4"/>
<line x1="622.90" y1="270.60" x2="622.90" y2="277.75" stroke="#000" stroke-width="1.4"/>
<line x1="622.90" y1="296.50" x2="622.90" y2="302.75" stroke="#000" stroke-width="1.4"/>
<line x1="628.40" y1="230.60" x2="628.40" y2="263.60" stroke="#000" stroke-width="1.4"/>
<line x1="628.40" y1="291.50" x2="628.40" y2="293.10" stroke="#000" stroke-width="1.4"/>
<line x1="633.90" y1="224.75" x2="633.90" y2="229.75" stroke="#000" stroke-width="1.4"/>
<line x1="633.90" y1="238.50" x2="633.90" y2="257.50" stroke="#000" stroke-width="1.4"/>
<line x1="639.40" y1="205.60" x2="639.40" y2="223.50" stroke="#000" stroke-width="1.4"/>
<line x1="639.40" y1="230.25" x2="639.40" y2="244.40" stroke="#000" stroke-width="1.4"/>
<line x1="644.90" y1="185.00" x2="644.90" y2="221.25" stroke="#000" stroke-width="1.4"/>
<line x1="644.90" y1="224.40" x2="644.90" y2="231.25" stroke="#000" stroke-width="1.4"/>
<line x1="650.40" y1="222.50" x2="650.40" y2="226.25" stroke="#000" stroke-width="1.4"/>
<line x1="650.40" y1="244.40" x2="650.40" y2="261.25" stroke="#000" stroke-width="1.4"/>
<line x1="655.90" y1="230.60" x2="655.90" y2="232.50" stroke="#000" stroke-width="1.4"/>
<line x1="655.90" y1="257.50" x2="655.90" y2="268.10" stroke="#000" stroke-width="1.4"/>
<line x1="661.40" y1="244.40" x2="661.40" y2="245.60" stroke="#000" stroke-width="1.4"/>
<line x1="661.40" y1="275.25" x2="661.40" y2="283.75" stroke="#000" stroke-width="1.4"/>
<line x1="666.90" y1="219.40" x2="666.90" y2="233.50" stroke="#000" stroke-width="1.4"/>
<line x1="666.90" y1="297.25" x2="666.90" y2="299.00" stroke="#000" stroke-width="1.4"/>
<line x1="672.40" y1="213.10" x2="672.40" y2="224.40" stroke="#000" stroke-width="1.4"/>
<line x1="672.40" y1="226.50" x2="672.40" y2="238.10" stroke="#000" stroke-width="1.4"/>
<line x1="677.90" y1="228.75" x2="677.90" y2="236.25" stroke="#000" stroke-width="1.4"/>
<line x1="677.90" y1="240.00" x2="677.90" y2="255.60" stroke="#000" stroke-width="1.4"/>
<line x1="683.40" y1="231.25" x2="683.40" y2="246.25" stroke="#000" stroke-width="1.4"/>
<line x1="683.40" y1="263.30" x2="683.40" y2="275.00" stroke="#000" stroke-width="1.4"/>
<line x1="688.90" y1="246.25" x2="688.90" y2="278.50" stroke="#000" stroke-width="1.4"/>
<line x1="688.90" y1="282.25" x2="688.90" y2="293.75" stroke="#000" stroke-width="1.4"/>
<polyline points="111.40,140.30 116.90,149.40 122.40,150.60 127.90,147.50 133.40,150.00 138.90,152.75 144.40,152.25 149.90,152.75 155.40,156.90 160.90,162.50 166.40,169.40 171.90,180.00 177.40,195.25 182.90,206.25 188.40,217.25 193.90,230.60 199.40,238.75 204.90,245.60 210.40,254.75 215.90,260.60 221.40,265.00 226.90,270.50 232.40,276.00 237.90,279.40 243.40,283.75 248.90,293.50 254.40,303.00 259.90,309.70 265.40,317.50 270.90,327.50 276.40,333.60 281.90,338.75 287.40,344.40 292.90,348.50 298.40,352.50 303.90,355.60 309.40,360.00 314.90,363.75 320.40,364.75 325.90,365.60 331.40,369.40 336.90,371.50 342.40,372.25 347.90,365.00 353.40,365.00 358.90,362.25 364.40,365.00 369.90,370.60 375.40,373.75 380.90,375.60 386.40,379.40 391.90,386.90 397.40,400.60 402.90,406.00 408.40,412.50 413.90,416.90 419.40,418.50 424.90,422.60 430.40,426.25 435.90,429.00 441.40,429.50 446.90,426.90 452.40,429.00 457.90,431.90 463.40,428.10 468.90,425.25 474.40,425.25 479.90,429.40 485.40,431.00 490.90,432.80 496.40,433.60 501.90,436.90 507.40,441.20 512.90,449.40 518.40,456.60 523.90,461.50 529.40,466.25 534.90,467.50 540.40,466.25 545.90,461.90 551.40,456.25 556.90,447.50 562.40,437.00 567.90,429.00 573.40,419.40 578.90,408.75 584.40,395.60 589.90,384.40 595.40,376.00 600.90,368.10 606.40,359.40 611.90,350.00 617.40,336.25 622.90,321.25 628.40,307.50 633.90,295.00 639.40,283.75 644.90,272.50 650.40,263.75 655.90,257.50 661.40,254.00 666.90,248.50 672.40,241.90 677.90,239.40 683.40,243.10 688.90,247.50" fill="none" stroke="#ec1a1a" stroke-width="1.3" stroke-linejoin="round"/>
<polyline points="111.40,328.40 116.90,343.50 122.40,258.00 127.90,147.00 133.40,283.00 138.90,281.60 144.40,330.00 149.90,393.00 155.40,411.00 160.90,411.60 166.40,488.00 171.90,456.00 177.40,424.00 182.90,392.00 188.40,411.00 193.90,411.00 199.40,336.00 204.90,350.00 210.40,432.00 215.90,325.00 221.40,241.00 226.90,428.00 232.40,350.40 237.90,361.00 243.40,416.00 248.90,451.00 254.40,393.60 259.90,454.00 265.40,410.00 270.90,384.00 276.40,344.00 281.90,243.00 287.40,263.00 292.90,237.60 298.40,308.00 303.90,340.00 309.40,351.00 314.90,358.00 320.40,308.00 325.90,257.00 331.40,356.00 336.90,296.00 342.40,237.00 347.90,106.00 353.40,258.00 358.90,246.00 364.40,400.00 369.90,448.00 375.40,368.00 380.90,351.50 386.40,368.50 391.90,425.00 397.40,461.00 402.90,400.00 408.40,304.00 413.90,419.00 419.40,321.00 424.90,346.00 430.40,255.60 435.90,264.40 441.40,260.00 446.90,337.00 452.40,241.00 457.90,245.00 463.40,289.60 468.90,250.00 474.40,283.00 479.90,418.00 485.40,371.00 490.90,439.00 496.40,330.00 501.90,324.40 507.40,333.00 512.90,469.00 518.40,440.00 523.90,402.00 529.40,354.00 534.90,281.00 540.40,255.00 545.90,57.00 551.40,169.00 556.90,114.00 562.40,129.00 567.90,289.00 573.40,325.00 578.90,358.00 584.40,171.00 589.90,163.00 595.40,192.00 600.90,201.00 606.40,216.00 611.90,211.00 617.40,161.00 622.90,230.00 628.40,169.00 633.90,109.00 639.40,106.40 644.90,136.00 650.40,250.00 655.90,375.00 661.40,404.00 666.90,452.00 672.40,345.00 677.90,183.50 683.40,369.00 688.90,507.70" fill="none" stroke="#ffa500" stroke-opacity="0.75" stroke-width="1.4" stroke-linejoin="round"/>
</g>
<rect x="80.5" y="48.5" width="640" height="480" fill="none" stroke="#000" stroke-width="1.1"/>
<line x1="111.5" y1="528.5" x2="111.5" y2="533.2" stroke="#000" stroke-width="1.05"/>
<text x="111.9" y="548.8" font-size="13.8" text-anchor="middle">Jun</text>
<text x="111.9" y="564.9" font-size="13.8" text-anchor="middle">2018</text>
<line x1="221.5" y1="528.5" x2="221.5" y2="533.2" stroke="#000" stroke-width="1.05"/>
<text x="221.9" y="548.8" font-size="13.8" text-anchor="middle">Jul</text>
<text x="221.9" y="564.9" font-size="13.8" text-anchor="middle">2018</text>
<line x1="331.5" y1="528.5" x2="331.5" y2="533.2" stroke="#000" stroke-width="1.05"/>
<text x="331.9" y="548.8" font-size="13.8" text-anchor="middle">Aug</text>
<text x="331.9" y="564.9" font-size="13.8" text-anchor="middle">2018</text>
<line x1="441.5" y1="528.5" x2="441.5" y2="533.2" stroke="#000" stroke-width="1.05"/>
<text x="441.9" y="548.8" font-size="13.8" text-anchor="middle">Sep</text>
<text x="441.9" y="564.9" font-size="13.8" text-anchor="middle">2018</text>
<line x1="551.5" y1="528.5" x2="551.5" y2="533.2" stroke="#000" stroke-width="1.05"/>
<text x="551.9" y="548.8" font-size="13.8" text-anchor="middle">Oct</text>
<text x="551.9" y="564.9" font-size="13.8" text-anchor="middle">2018</text>
<line x1="661.5" y1="528.5" x2="661.5" y2="533.2" stroke="#000" stroke-width="1.05"/>
<text x="661.9" y="548.8" font-size="13.8" text-anchor="middle">Oct</text>
<text x="661.9" y="564.9" font-size="13.8" text-anchor="middle">2018</text>
<line x1="75.6" y1="108.5" x2="80" y2="108.5" stroke="#000" stroke-width="1.05"/>
<text x="70.1" y="113.05" font-size="13.2" text-anchor="end">1120</text>
<line x1="75.6" y1="186.5" x2="80" y2="186.5" stroke="#000" stroke-width="1.05"/>
<text x="70.1" y="191.05" font-size="13.2" text-anchor="end">1100</text>
<line x1="75.6" y1="264.5" x2="80" y2="264.5" stroke="#000" stroke-width="1.05"/>
<text x="70.1" y="269.05" font-size="13.2" text-anchor="end">1080</text>
<line x1="75.6" y1="342.5" x2="80" y2="342.5" stroke="#000" stroke-width="1.05"/>
<text x="70.1" y="347.05" font-size="13.2" text-anchor="end">1060</text>
<line x1="75.6" y1="420.5" x2="80" y2="420.5" stroke="#000" stroke-width="1.05"/>
<text x="70.1" y="425.05" font-size="13.2" text-anchor="end">1040</text>
<line x1="75.6" y1="498.5" x2="80" y2="498.5" stroke="#000" stroke-width="1.05"/>
<text x="70.1" y="503.05" font-size="13.2" text-anchor="end">1020</text>
<line x1="720.5" y1="87.5" x2="725.2" y2="87.5" stroke="#000" stroke-width="1.05"/>
<text x="730.6" y="92.70" font-size="13.5" letter-spacing="-0.2">0.60</text>
<line x1="720.5" y1="157.5" x2="725.2" y2="157.5" stroke="#000" stroke-width="1.05"/>
<text x="730.6" y="162.20" font-size="13.5" letter-spacing="-0.2">0.40</text>
<line x1="720.5" y1="226.5" x2="725.2" y2="226.5" stroke="#000" stroke-width="1.05"/>
<text x="730.6" y="231.70" font-size="13.5" letter-spacing="-0.2">0.20</text>
<line x1="720.5" y1="296.5" x2="725.2" y2="296.5" stroke="#000" stroke-width="1.05"/>
<text x="730.6" y="301.20" font-size="13.5" letter-spacing="-0.2">0.00</text>
<line x1="720.5" y1="365.5" x2="725.2" y2="365.5" stroke="#000" stroke-width="1.05"/>
<text x="730.6" y="370.70" font-size="13.5" letter-spacing="-0.2">-0.20</text>
<line x1="720.5" y1="435.5" x2="725.2" y2="435.5" stroke="#000" stroke-width="1.05"/>
<text x="730.6" y="440.20" font-size="13.5" letter-spacing="-0.2">-0.40</text>
<line x1="720.5" y1="504.5" x2="725.2" y2="504.5" stroke="#000" stroke-width="1.05"/>
<text x="730.6" y="509.70" font-size="13.5" letter-spacing="-0.2">-0.60</text>
<text x="400.2" y="39.5" font-size="16.62" text-anchor="middle" xml:space="preserve">GC.EUR vs Forecast day (3)  [2018-11-07]</text>
<rect x="88.3" y="56.4" width="178" height="81.7" rx="2.5" fill="#6e6e6e" opacity="0.8"/>
<rect x="86.3" y="54.4" width="178" height="81.7" rx="2.5" fill="#fff" stroke="#ccc" stroke-width="1"/>
<line x1="91.2" y1="65.50" x2="117" y2="65.50" stroke="#d81c1c" stroke-width="1.4"/>
<text x="126.3" y="69.80" font-size="12.55">ma9 [1084 -1.48]</text>
<line x1="91.2" y1="84.50" x2="117" y2="84.50" stroke="#1a1ab0" stroke-width="1.4"/>
<text x="126.3" y="89.15" font-size="12.55">ma50 [1053 +0.87]</text>
<line x1="91.2" y1="103.50" x2="117" y2="103.50" stroke="#1c7c1c" stroke-width="1.4"/>
<text x="126.3" y="108.50" font-size="12.55">ma200 [1075 -0.13]</text>
<line x1="91.2" y1="123.50" x2="117" y2="123.50" stroke="#000" stroke-width="1.4"/>
<text x="126.3" y="127.85" font-size="12.55">GC.EUR [1075 -4.98]</text>
<rect x="427.6" y="56.4" width="289.8" height="23.8" rx="2.5" fill="#6e6e6e" opacity="0.8"/>
<rect x="425.6" y="54.4" width="289.8" height="23.8" rx="2.5" fill="#fff" stroke="#ccc" stroke-width="1"/>
<line x1="430.7" y1="65.5" x2="456.5" y2="65.5" stroke="#ffa500" stroke-opacity="0.8" stroke-width="1.4"/>
<text x="465.2" y="69.9" font-size="12.67">GC.EUR.Forecast.day.3.vt [-0.61 -0.40]</text>
<g filter="url(#blur)" opacity="0.4" transform="translate(0,2.6)"><path d="M689.1,298.7 L697.7,315.3 Q694,313.7 692.1,314.1 L690.7,338.4 Q689.3,340.6 687.9,338.4 L686.3,314.1 Q684.5,313.7 680.7,315.7 Z" fill="#000" opacity="0.5"/>
<text class="ann" transform="translate(638.0,370.8) scale(1,1.05)" x="0" y="0" font-size="22.6" letter-spacing="0.7" fill="#000" stroke="#000" stroke-width="4.5" stroke-linejoin="round">At 200 MA</text>
<text class="ann" transform="translate(585.2,475.9) scale(1,1.04)" x="0" y="0" font-size="22.6" letter-spacing="0.7" fill="#000" stroke="#000" stroke-width="4.5" stroke-linejoin="round">strong downtrend</text>
<circle cx="690.5" cy="504.3" r="6.3" fill="none" stroke="#000" stroke-width="5"/></g>
<g filter="url(#soft)"><text class="ann" transform="translate(638.0,370.8) scale(1,1.05)" x="0" y="0" font-size="22.6" letter-spacing="0.7" fill="#fff" stroke="#fff" stroke-width="5.8" stroke-linejoin="round">At 200 MA</text>
<text class="ann" transform="translate(585.2,475.9) scale(1,1.04)" x="0" y="0" font-size="22.6" letter-spacing="0.7" fill="#fff" stroke="#fff" stroke-width="5.8" stroke-linejoin="round">strong downtrend</text>
<circle cx="690.5" cy="504.3" r="6.3" fill="none" stroke="#fff" stroke-width="5.6"/></g>
<g><path d="M689.1,298.7 L697.7,315.3 Q694,313.7 692.1,314.1 L690.7,338.4 Q689.3,340.6 687.9,338.4 L686.3,314.1 Q684.5,313.7 680.7,315.7 Z" fill="#f42a0c"/>
<text class="ann" transform="translate(638.0,370.8) scale(1,1.05)" x="0" y="0" font-size="22.6" letter-spacing="0.7" fill="#f42a0c" stroke="#f42a0c" stroke-width="0.55" stroke-linejoin="round">At 200 MA</text>
<text class="ann" transform="translate(585.2,475.9) scale(1,1.04)" x="0" y="0" font-size="22.6" letter-spacing="0.7" fill="#f42a0c" stroke="#f42a0c" stroke-width="0.55" stroke-linejoin="round">strong downtrend</text>
<circle cx="690.5" cy="504.3" r="6.3" fill="none" stroke="#f42a0c" stroke-width="2.9"/></g>
<text x="16" y="591" font-size="11.67" font-style="italic" xml:space="preserve">Last update Nov  8, 2018</text>
<text x="600" y="591" font-size="11.6" font-style="italic">http://peakprosperity.com</text>
</svg></body></html>
